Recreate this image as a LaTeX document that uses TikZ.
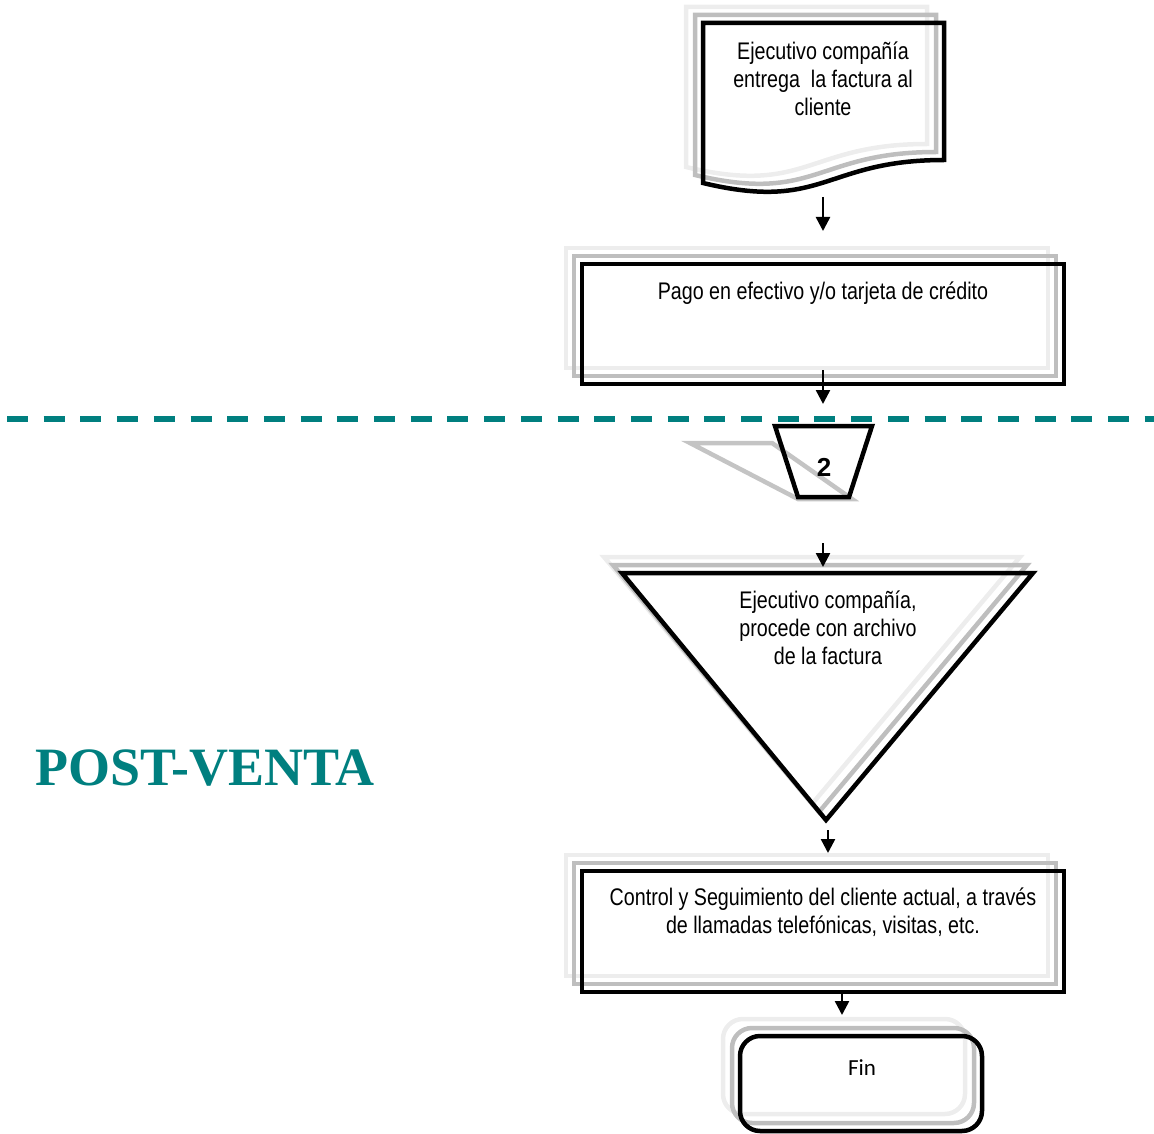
\documentclass[tikz,border=0pt]{standalone}
\usepackage{fontspec}
\setmainfont{Liberation Sans}
\newfontfamily\narrowfont[FakeStretch=0.82]{Liberation Sans}
\newfontfamily\calfont{Carlito}
\newfontfamily\timesfont{Liberation Serif}
\usetikzlibrary{arrows.meta}
\definecolor{tealline}{HTML}{007F7F}
\definecolor{shA}{HTML}{EDEDED}
\definecolor{shB}{HTML}{BEBEBE}
\definecolor{shC}{HTML}{C4C4C4}
\begin{document}
\begin{tikzpicture}[x=1pt,y=-1pt,
  mainline/.style={draw=black, line width=4.5pt, line join=miter},
  boxnode/.style={mainline, rectangle, inner sep=0pt, outer sep=0pt},
  shadeA/.style={draw=shA, line width=4.5pt},
  shadeB/.style={draw=shB, line width=4.5pt},
  lbl/.style={font=\narrowfont\fontsize{24}{28}\selectfont, align=center, inner sep=0pt},
  arr/.style={line width=2.5pt, -{Triangle[length=14pt,width=14pt]}}]
\useasboundingbox (0,0) rectangle (1154,1134);

% separator
\coordinate (sepL) at (7,419);
\coordinate (sepR) at (1154,419);
\draw[tealline, line width=6pt, dash pattern=on 21pt off 15.7pt] (sepL) -- (sepR);

% POST-VENTA
\node[anchor=base west, inner sep=0pt, text=tealline,
      font=\timesfont\bfseries\fontsize{54}{60}\selectfont] (post) at (35,785) {POST-VENTA};

% document shape
\foreach \dx/\dy/\st in {-17/-16/shadeA, -8/-8/shadeB}
  \draw[\st, shift={(\dx,\dy)}] (703,23) -- (944,23) -- (944,160)
     .. controls (824,160) and (824,212) .. (703,183) -- cycle;
\draw[mainline] (703,23) -- (944,23) -- (944,160)
     .. controls (824,160) and (824,212) .. (703,183) -- cycle;
\node[lbl] (doc) at (823,79) {Ejecutivo compañía\\entrega\ \ la factura al\\cliente};

% arrow 1
\coordinate (a1s) at (823,197);
\coordinate (a1e) at (823,231);
\draw[arr] (a1s) -- (a1e);

% Pago box
\foreach \d/\st in {16/shadeA, 8/shadeB}
  \draw[\st] (582-\d,264-\d) rectangle (1064-\d,384-\d);
\node[boxnode, minimum width=482pt, minimum height=120pt] (pago) at (823,324) {};
\node[lbl] (pagot) at (823,293) {Pago en efectivo y/o tarjeta de crédito};

% arrow 2
\coordinate (a2s) at (823,370);
\coordinate (a2e) at (823,404);
\draw[arr] (a2s) -- (a2e);

% off-page connector 2
\draw[draw=shC, line width=4.5pt, line join=miter] (690,443) -- (772,443) -- (852,499) -- (798,499) -- cycle;
\draw[mainline] (775,426) -- (872,426) -- (849,497) -- (798,497) -- cycle;
\node[font=\bfseries\fontsize{26}{30}\selectfont, inner sep=0pt] (two) at (824,467) {2};

% triangle
\draw[shadeA] (604,557) -- (1020,557) -- (812,804) -- cycle;
\draw[shadeB] (613,565) -- (1027,565) -- (819,812) -- cycle;
\draw[mainline] (622,573) -- (1033,573) -- (826,820) -- cycle;
\node[lbl] (tri) at (828,628) {Ejecutivo compañía,\\procede con archivo\\de la factura};

% arrow 3
\coordinate (a3s) at (823,543);
\coordinate (a3e) at (823,567);
\draw[arr] (a3s) -- (a3e);

% arrow 4
\coordinate (a4s) at (828,830);
\coordinate (a4e) at (828,853);
\draw[arr] (a4s) -- (a4e);

% Control box
\foreach \d/\st in {16/shadeA, 8/shadeB}
  \draw[\st] (582-\d,871-\d) rectangle (1064-\d,992-\d);
\node[boxnode, minimum width=482pt, minimum height=121pt] (ctrl) at (823,931.5) {};
\node[lbl] (ctrlt) at (823,912) {Control y Seguimiento del cliente actual, a través\\de llamadas telefónicas, visitas, etc.};

% arrow 5
\coordinate (a5s) at (842,994);
\coordinate (a5e) at (842,1015);
\draw[arr] (a5s) -- (a5e);

% Fin
\foreach \d/\st in {17/shadeA, 8/shadeB}
  \draw[\st, rounded corners=20pt] (740-\d,1036-\d) rectangle (982-\d,1131-\d);
\node[boxnode, rounded corners=20pt, minimum width=242pt, minimum height=95pt] (fin) at (861,1083.5) {};
\node[font=\calfont\fontsize{23}{26}\selectfont, inner sep=0pt] (fint) at (862,1068) {Fin};
\end{tikzpicture}
\end{document}
